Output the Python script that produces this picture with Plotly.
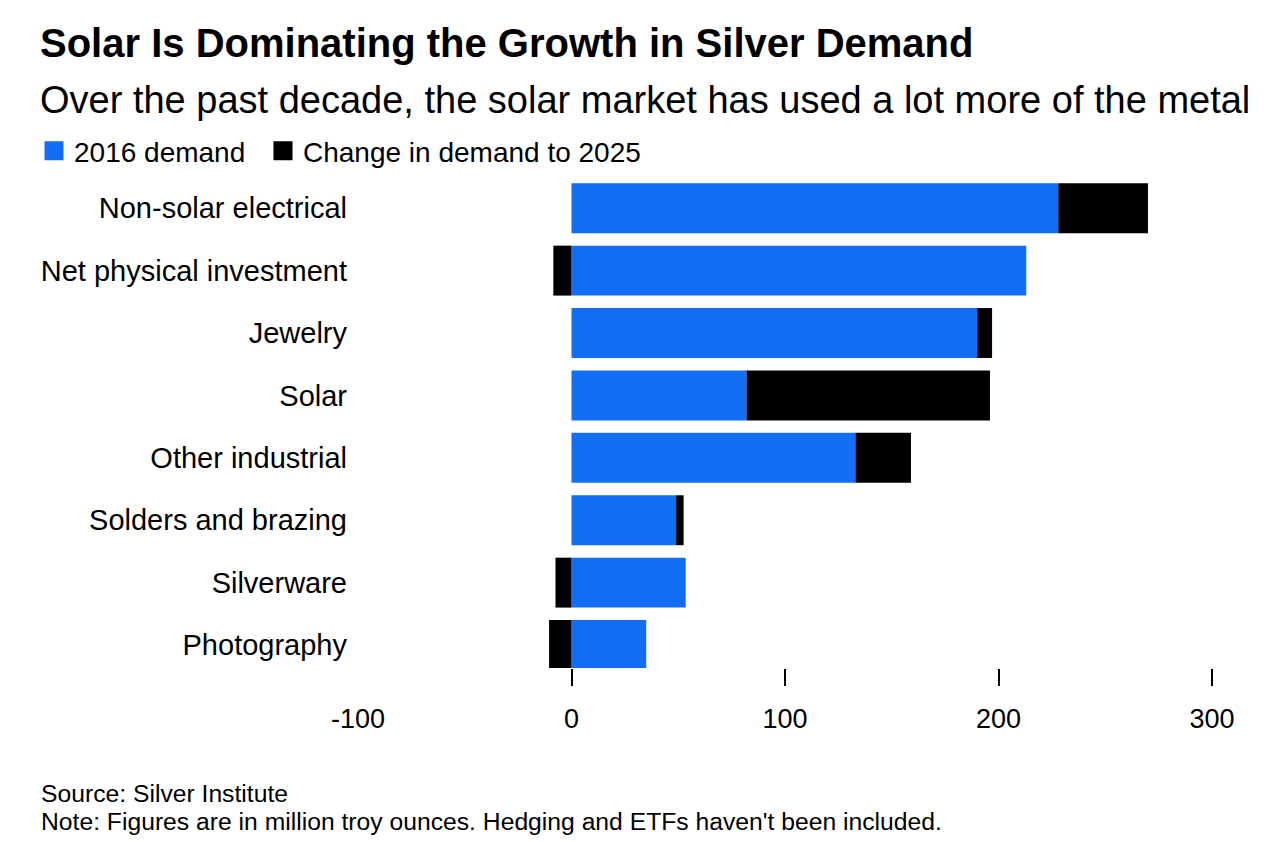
import plotly.graph_objects as go

categories = ["Non-solar electrical", "Net physical investment", "Jewelry", "Solar",
              "Other industrial", "Solders and brazing", "Silverware", "Photography"]
demand_2016 = [228, 213, 190, 82, 133, 49, 53.5, 35]
change_to_2025 = [42, -8.5, 7, 114, 26, 3.5, -7.5, -10.5]
tick_vals = [0, 100, 200, 300]
tick_text = ["0", "100", "200", "300"]

BLUE = "#136EF6"
BLACK = "#000000"
FONT = "Liberation Sans"

W, H = 1264, 842
L, R, T, B = 358, 1212, 177, 668

def px(x):
    return (x - L) / (R - L)

def py(y):
    return (B - y) / (B - T)

fig = go.Figure()
fig.add_trace(go.Bar(y=categories, x=demand_2016, orientation="h", name="2016 demand",
                     marker=dict(color=BLUE, line=dict(width=0)), showlegend=False))
fig.add_trace(go.Bar(y=categories, x=change_to_2025, orientation="h", name="Change in demand to 2025",
                     marker=dict(color=BLACK, line=dict(width=0)), showlegend=False))
# legend proxies
fig.add_trace(go.Scatter(x=[None], y=[None], mode="markers", name="2016 demand", legend="legend",
                         marker=dict(symbol="square", size=16, color=BLUE,
                                     line=dict(width=3, color=BLUE))))
fig.add_trace(go.Scatter(x=[None], y=[None], mode="markers", name="Change in demand to 2025",
                         legend="legend2",
                         marker=dict(symbol="square", size=16, color=BLACK,
                                     line=dict(width=3, color=BLACK))))
# axis for the -100 label (no tick mark)
fig.add_trace(go.Scatter(x=[None], y=[None], xaxis="x2", showlegend=False))

legend_common = dict(orientation="h", xanchor="left", yanchor="middle",
                     font=dict(size=28, family=FONT), itemsizing="trace",
                     bgcolor="rgba(0,0,0,0)", itemwidth=30)

fig.update_layout(
    width=W, height=H,
    margin=dict(l=L, r=W - R, t=T, b=H - B, pad=0),
    paper_bgcolor="white", plot_bgcolor="white",
    barmode="relative", bargap=0.2,
    font=dict(family=FONT, color="black", size=24),
    xaxis=dict(range=[-100, 300], tickvals=tick_vals, ticktext=tick_text,
               ticks="outside", ticklen=17, tickwidth=1.5, tickcolor="black",
               ticklabelstandoff=10,
               showgrid=False, zeroline=False, showline=False,
               tickfont=dict(size=27, family=FONT)),
    xaxis2=dict(overlaying="x", side="bottom", range=[-100, 300], tickvals=[-100], ticktext=["-100"],
                ticks="outside", ticklen=17, tickwidth=1.5, tickcolor="rgba(0,0,0,0)",
                ticklabelstandoff=10,
                showgrid=False, zeroline=False, showline=False,
                tickfont=dict(size=27, family=FONT)),
    yaxis=dict(categoryorder="array", categoryarray=categories, range=[7.368, -0.5],
               showgrid=False, zeroline=False, showline=False, ticks="",
               ticklabelstandoff=10, tickfont=dict(size=29, family=FONT)),
    legend=dict(x=px(34), y=py(151), **legend_common),
    legend2=dict(x=px(263), y=py(151), **legend_common),
    showlegend=True,
)

fig.add_annotation(text="<b>Solar Is Dominating the Growth in Silver Demand</b>",
                   xref="paper", yref="paper", x=px(38), y=py(43), xanchor="left", yanchor="middle",
                   showarrow=False, font=dict(size=40, family=FONT, color="black"))
fig.add_annotation(text="Over the past decade, the solar market has used a lot more of the metal",
                   xref="paper", yref="paper", x=px(38), y=py(100), xanchor="left", yanchor="middle",
                   showarrow=False, font=dict(size=38, family=FONT, color="black"))
fig.add_annotation(text="Source: Silver Institute",
                   xref="paper", yref="paper", x=px(39), y=py(793), xanchor="left", yanchor="middle",
                   showarrow=False, font=dict(size=24.7, family=FONT, color="black"))
fig.add_annotation(text="Note: Figures are in million troy ounces. Hedging and ETFs haven't been included.",
                   xref="paper", yref="paper", x=px(39), y=py(822), xanchor="left", yanchor="middle",
                   showarrow=False, font=dict(size=24.7, family=FONT, color="black"))

fig.write_html("out.html", config={"displayModeBar": False},
               post_script="document.body.style.margin='0';document.body.style.overflow='hidden';")
